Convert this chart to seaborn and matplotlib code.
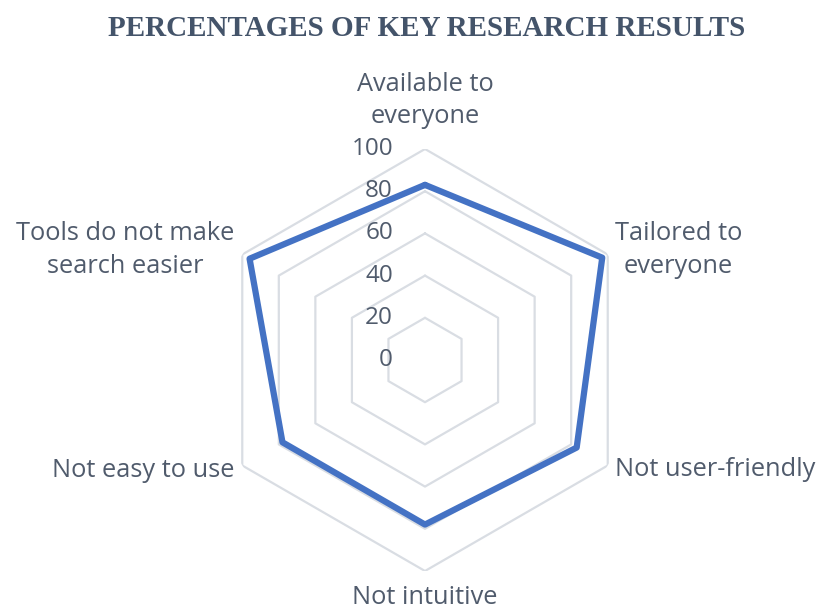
import numpy as np
import matplotlib
matplotlib.use("Agg")
import matplotlib.pyplot as plt
import seaborn as sns

# data
categories = ["Available to\neveryone", "Tailored to\neveryone", "Not user-friendly",
              "Not intuitive", "Not easy to use", "Tools do not make\nsearch easier"]
values = [83, 97, 83, 78, 78, 96]
ticks = [0, 20, 40, 60, 80, 100]

sns.set_style("white")
plt.rcParams['font.family'] = ['Open Sans', 'DejaVu Sans']

label_color = "#505B6C"
grid_color = "#D9DDE3"
line_color = "#4472C4"

n = len(categories)
angles = np.linspace(0, 2 * np.pi, n, endpoint=False)
angles_closed = np.append(angles, 2 * np.pi)
values_closed = values + values[:1]

fig = plt.figure(figsize=(8.22, 6.13), dpi=100)
cx, cy, R = 425, 613 - 360, 211
ax = fig.add_axes([(cx - R) / 822, (cy - R) / 613, 2 * R / 822, 2 * R / 613], polar=True)
ax.set_theta_offset(np.pi / 2)
ax.set_theta_direction(-1)
ax.set_ylim(0, 100)
ax.grid(False)
ax.spines['polar'].set_visible(False)
ax.set_xticks([])
ax.set_yticks([])
ax.patch.set_alpha(0)

# hexagonal grid rings
for t in ticks[1:]:
    ax.plot(angles_closed, [t] * (n + 1), color=grid_color, lw=1.6, zorder=1)

sns.lineplot(x=angles_closed, y=values_closed, sort=False, ax=ax,
             color=line_color, lw=4.5, zorder=3)

# tick labels along the vertical axis
for t in ticks:
    ax.annotate(str(t), xy=(0, t), xytext=(-32, 0), textcoords='offset pixels',
                ha='right', va='center', fontsize=17.5, color=label_color,
                annotation_clip=False, zorder=4)

# category labels
placements = [
    (123, 'center', 'center'),
    (104, 'left', 'center'),
    (104, 'left', 'center'),
    (106.5, 'center', 'top'),
    (104.5, 'right', 'center'),
    (104.5, 'right', 'center'),
]
for ang, lab, (r, ha, va) in zip(angles, categories, placements):
    ax.text(ang, r, lab, ha=ha, va=va, multialignment='center', linespacing=1.4,
            fontsize=18.3, color=label_color, clip_on=False)

fig.text(427 / 822, 1 - 29 / 613, "PERCENTAGES OF KEY RESEARCH RESULTS",
         ha='center', va='center', fontsize=21, fontweight='bold',
         color="#44546A", family=['Liberation Serif'])

fig.savefig("out.png", dpi=100)
